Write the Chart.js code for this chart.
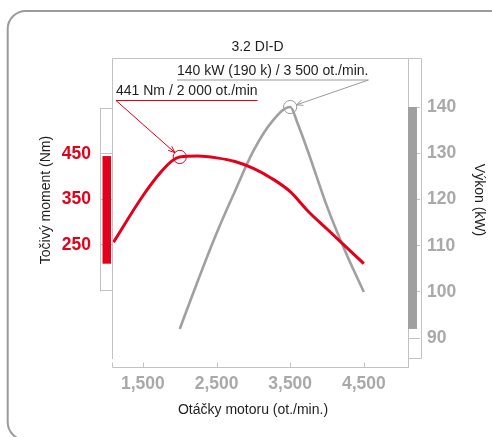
<!DOCTYPE html>
<html>
<head>
<meta charset="utf-8">
<script src="https://cdn.jsdelivr.net/npm/chart.js@4.4.1/dist/chart.umd.min.js"></script>
<style>
  html, body { margin: 0; padding: 0; background: #fff; }
</style>
</head>
<body>
<canvas id="motorChart" width="492" height="437"></canvas>
<script>
// Točivý moment (Nm) podle otáček
const otackyMoment = [1100, 1500, 1750, 1900, 2000, 2250, 2500, 2750, 3000, 3250, 3500, 3750, 4000, 4250, 4500];
const moment = [256, 358, 411, 435, 443, 445, 441, 433, 418, 396, 367, 323, 285, 247, 209];

// Výkon (kW) podle otáček
const otackyVykon = [2000, 2250, 2500, 2750, 3000, 3250, 3500, 3600, 3750, 4000, 4250, 4500];
const vykon = [92, 102.6, 112.7, 121.8, 130.5, 136.8, 140, 136.5, 130, 118.5, 108.7, 100];

// Popisky os
const xTicks = [1500, 2500, 3500, 4500];
const momentTicks = [150, 250, 350, 450, 550];
const momentLabels = [250, 350, 450];
const vykonTicks = [90, 100, 110, 120, 130, 140];

const titulek = '3.2 DI-D';
const osaX = 'Otáčky motoru (ot./min.)';
const osaMoment = 'Točivý moment (Nm)';
const osaVykon = 'Výkon (kW)';
const popisVykon = '140 kW (190 k) / 3 500 ot./min.';
const popisMoment = '441 Nm / 2 000 ot./min';
const vrcholVykonOtacky = 3500;
const vrcholMomentOtacky = 2000;

const CERVENA = '#e2001a';
const SEDA = '#a0a0a0';
const POPISKY_SEDE = '#a9a9a9';
const LINKY = '#c2c2c2';
const TEXT = '#1e1e1e';
const PISMO = '"Liberation Sans", Arial, sans-serif';

function px(v) { return Math.round(v) + 0.5; }

function sipka(ctx, x1, y1, x2, y2) {
    ctx.beginPath();
    ctx.moveTo(x1, y1);
    ctx.lineTo(x2, y2);
    ctx.stroke();
    const uhel = Math.atan2(y2 - y1, x2 - x1);
    ctx.beginPath();
    ctx.moveTo(x2 - 7 * Math.cos(uhel - 0.4), y2 - 7 * Math.sin(uhel - 0.4));
    ctx.lineTo(x2, y2);
    ctx.lineTo(x2 - 7 * Math.cos(uhel + 0.4), y2 - 7 * Math.sin(uhel + 0.4));
    ctx.stroke();
}

function popisek(ctx, text, x, y, barva, bod) {
    ctx.font = '14px ' + PISMO;
    ctx.fillStyle = TEXT;
    ctx.textAlign = 'left';
    ctx.textBaseline = 'middle';
    ctx.fillText(text, x, y);
    const w = ctx.measureText(text).width;
    const yLinka = y + 9;
    ctx.strokeStyle = barva;
    ctx.lineWidth = 1;
    ctx.beginPath();
    ctx.moveTo(x, yLinka);
    ctx.lineTo(x + w, yLinka);
    ctx.stroke();

    // kroužek kolem bodu a šipka k němu
    const r = 6.6;
    ctx.beginPath();
    ctx.arc(bod.x, bod.y, r, 0, Math.PI * 2);
    ctx.stroke();
    const startX = barva === CERVENA ? x : x + w;
    const dx = bod.x - startX, dy = bod.y - yLinka;
    const d = Math.sqrt(dx * dx + dy * dy);
    sipka(ctx, startX, yLinka, bod.x - dx / d * r, bod.y - dy / d * r);
}

const dekorace = {
    id: 'dekorace',
    beforeDraw(chart) {
        const ctx = chart.ctx;
        ctx.save();
        ctx.fillStyle = '#fff';
        ctx.fillRect(0, 0, chart.width, chart.height);
        // zaoblený rámeček
        const x0 = 7.7, y0 = 11, w = 620, h = 429, r = 18;
        ctx.strokeStyle = '#9b9b9b';
        ctx.lineWidth = 2;
        ctx.beginPath();
        ctx.moveTo(x0 + r, y0);
        ctx.lineTo(x0 + w - r, y0);
        ctx.arcTo(x0 + w, y0, x0 + w, y0 + r, r);
        ctx.lineTo(x0 + w, y0 + h - r);
        ctx.arcTo(x0 + w, y0 + h, x0 + w - r, y0 + h, r);
        ctx.lineTo(x0 + r, y0 + h);
        ctx.arcTo(x0, y0 + h, x0, y0 + h - r, r);
        ctx.lineTo(x0, y0 + r);
        ctx.arcTo(x0, y0, x0 + r, y0, r);
        ctx.stroke();
        ctx.restore();
    },
    afterDatasetsDraw(chart) {
        const ctx = chart.ctx;
        const a = chart.chartArea;
        const sx = chart.scales.x, sy = chart.scales.y, sy1 = chart.scales.y1;
        ctx.save();
        ctx.strokeStyle = LINKY;
        ctx.lineWidth = 1;

        // rámeček grafu
        ctx.beginPath();
        ctx.moveTo(px(a.left), a.bottom);
        ctx.lineTo(px(a.left), px(a.top));
        ctx.lineTo(px(a.right), px(a.top));
        ctx.lineTo(px(a.right), a.bottom + 9);
        ctx.stroke();

        // levý box osy momentu
        const yTop = sy.getPixelForValue(momentTicks[momentTicks.length - 1]);
        const yBot = sy.getPixelForValue(momentTicks[0]);
        ctx.beginPath();
        ctx.moveTo(px(a.left - 12), px(yTop));
        ctx.lineTo(px(a.left - 12), px(yBot));
        ctx.stroke();

        // pravý box osy výkonu
        ctx.beginPath();
        ctx.moveTo(px(a.right), px(a.top));
        ctx.lineTo(px(a.right + 12.5), px(a.top));
        ctx.lineTo(px(a.right + 12.5), px(a.bottom - 1));
        ctx.lineTo(px(a.right), px(a.bottom - 1));
        ctx.stroke();

        // spodní osa s ryskami
        const yOsa = px(a.bottom + 8);
        ctx.beginPath();
        ctx.moveTo(px(a.left), yOsa);
        ctx.lineTo(px(a.right), yOsa);
        [sx.min].concat(xTicks).forEach(v => {
            const x = px(sx.getPixelForValue(v));
            ctx.moveTo(x, yOsa);
            ctx.lineTo(x, yOsa - 5);
        });
        ctx.stroke();

        // rozsahové pruhy
        const mMax = sy.getPixelForValue(Math.max(...moment));
        const mMin = sy.getPixelForValue(Math.min(...moment));
        ctx.fillStyle = CERVENA;
        ctx.fillRect(a.left - 9.5, mMax, 8.5, mMin - mMax);
        const vMax = sy1.getPixelForValue(Math.max(...vykon));
        const vMin = sy1.getPixelForValue(Math.min(...vykon));
        ctx.fillStyle = SEDA;
        ctx.fillRect(a.right, vMax, 9, vMin - vMax);
        ctx.restore();
    },
    afterDraw(chart) {
        const ctx = chart.ctx;
        const a = chart.chartArea;
        ctx.save();

        // titulek a názvy os
        ctx.fillStyle = TEXT;
        ctx.font = '14px ' + PISMO;
        ctx.textAlign = 'center';
        ctx.textBaseline = 'middle';
        ctx.fillText(titulek, 257.5, 47);
        ctx.fillText(osaX, 253, 410);

        ctx.save();
        ctx.translate(46.5, 200);
        ctx.rotate(-Math.PI / 2);
        ctx.fillText(osaMoment, 0, 0);
        ctx.restore();

        ctx.save();
        ctx.translate(479, 200);
        ctx.rotate(Math.PI / 2);
        ctx.fillText(osaVykon, 0, 0);
        ctx.restore();

        // popisky vrcholů
        const bodV = chart.getDatasetMeta(1).data[otackyVykon.indexOf(vrcholVykonOtacky)];
        const bodM = chart.getDatasetMeta(0).data[otackyMoment.indexOf(vrcholMomentOtacky)];
        popisek(ctx, popisVykon, a.left + 65, a.top + 13, '#9a9a9a', bodV);
        popisek(ctx, popisMoment, a.left + 4, a.top + 33.5, CERVENA, bodM);
        ctx.restore();
    }
};

const tickFont = { family: PISMO, size: 17.5, weight: 'bold' };

const config = {
    type: 'line',
    data: {
        datasets: [{
            label: 'Točivý moment',
            data: otackyMoment.map((o, i) => ({ x: o, y: moment[i] })),
            borderColor: CERVENA,
            borderWidth: 3,
            cubicInterpolationMode: 'monotone',
            yAxisID: 'y'
        }, {
            label: 'Výkon',
            data: otackyVykon.map((o, i) => ({ x: o, y: vykon[i] })),
            borderColor: SEDA,
            borderWidth: 2.6,
            cubicInterpolationMode: 'monotone',
            yAxisID: 'y1'
        }]
    },
    options: {
        responsive: false,
        animation: false,
        layout: { padding: { top: 58 } },
        elements: { point: { radius: 0 } },
        plugins: {
            legend: { display: false },
            title: { display: false },
            tooltip: { enabled: false }
        },
        scales: {
            x: {
                type: 'linear',
                min: 1080,
                max: 5100,
                afterFit: s => { s.height = 78; },
                afterBuildTicks: s => { s.ticks = xTicks.map(v => ({ value: v })); },
                grid: { display: false, drawTicks: false },
                border: { display: false },
                ticks: {
                    padding: 15,
                    color: POPISKY_SEDE,
                    font: tickFont,
                    maxRotation: 0,
                    autoSkip: false,
                    callback: v => v.toLocaleString('en-US')
                }
            },
            y: {
                position: 'left',
                min: 0,
                max: 660,
                afterFit: s => { s.width = 112; },
                afterBuildTicks: s => { s.ticks = momentTicks.map(v => ({ value: v })); },
                grid: { drawOnChartArea: false, drawTicks: true, tickLength: 12, color: LINKY },
                border: { display: false },
                ticks: {
                    padding: 9,
                    color: CERVENA,
                    font: tickFont,
                    autoSkip: false,
                    callback: v => momentLabels.includes(v) ? String(v) : ''
                }
            },
            y1: {
                position: 'right',
                min: 85.5,
                max: 150.6,
                afterFit: s => { s.width = 84; },
                afterBuildTicks: s => { s.ticks = vykonTicks.map(v => ({ value: v })); },
                grid: { drawOnChartArea: false, drawTicks: true, tickLength: 12, color: LINKY },
                border: { display: false },
                ticks: {
                    padding: 7,
                    color: POPISKY_SEDE,
                    font: tickFont,
                    autoSkip: false
                }
            }
        }
    },
    plugins: [dekorace]
};

const motorChart = new Chart(document.getElementById('motorChart'), config);
</script>
</body>
</html>
